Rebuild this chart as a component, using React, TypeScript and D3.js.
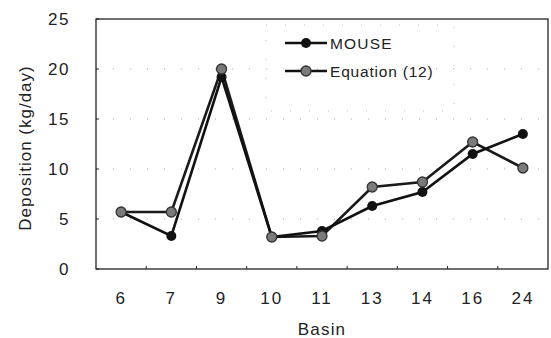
import React from 'react';
import * as d3 from 'd3';

const basins = ['6', '7', '9', '10', '11', '13', '14', '16', '24'];
const mouse = [5.7, 3.3, 19.2, 3.2, 3.8, 6.3, 7.7, 11.5, 13.5];
const equation = [5.7, 5.7, 20, 3.2, 3.3, 8.2, 8.7, 12.7, 10.1];
const yTicks = [0, 5, 10, 15, 20, 25];

const width = 551;
const height = 338;
const margin = { top: 19, right: 3, bottom: 69, left: 96 };
const innerW = width - margin.left - margin.right;
const innerH = height - margin.top - margin.bottom;
const font = '"Liberation Sans", Arial, sans-serif';

export default function App() {
  const x = d3.scaleBand().domain(basins).range([0, innerW]);
  const y = d3.scaleLinear().domain([0, 25]).range([innerH, 0]);
  const cx = (i: number) => (x(basins[i]) ?? 0) + x.bandwidth() / 2;

  const line = d3.line<number>()
    .x((_, i) => cx(i))
    .y(d => y(d));

  // legend placement
  const lg = { x: 170, y: 6, w: 188, h: 86 };

  return (
    <svg width={width} height={height}
      style={{ position: 'fixed', left: 0, top: 0, background: '#fff' }}>
      <g transform={`translate(${margin.left},${margin.top})`}>
        {/* faint dotted grid */}
        {yTicks.slice(1, -1).map(t => (
          <line key={t} x1={0} x2={innerW} y1={y(t)} y2={y(t)}
            stroke="#aaa" strokeWidth={1} strokeDasharray="1 16" />
        ))}
        {/* frame */}
        <rect x={0} y={0} width={innerW} height={innerH} fill="none" stroke="#222" strokeWidth={1.3} />
        {/* y ticks */}
        {yTicks.map(t => (
          <g key={t}>
            <line x1={0} x2={3} y1={y(t)} y2={y(t)} stroke="#222" />
            <text x={-26} y={y(t)} dy="0.36em" textAnchor="end" fontFamily={font}
              fontSize={17} letterSpacing={1.5} fill="#222">{t}</text>
          </g>
        ))}
        {/* x boundary ticks */}
        {basins.slice(1).map(b => (
          <line key={b} x1={x(b)} x2={x(b)} y1={innerH} y2={innerH - 3} stroke="#222" />
        ))}
        {basins.map((b, i) => (
          <text key={b} x={cx(i)} y={innerH + 35} textAnchor="middle" fontFamily={font}
            fontSize={17} letterSpacing={2} fill="#222">{b}</text>
        ))}

        {/* series */}
        <path d={line(equation) ?? ''} fill="none" stroke="#1a1a1a" strokeWidth={2.6} />
        <path d={line(mouse) ?? ''} fill="none" stroke="#111" strokeWidth={2.6} />
        {mouse.map((v, i) => (
          <circle key={'m' + i} cx={cx(i)} cy={y(v)} r={5} fill="#111" />
        ))}
        {equation.map((v, i) => (
          <circle key={'e' + i} cx={cx(i)} cy={y(v)} r={5} fill="#7a7a7a" stroke="#333" strokeWidth={1.3} />
        ))}

        {/* legend */}
        <rect x={lg.x} y={lg.y} width={lg.w} height={lg.h} fill="none" stroke="#bbb"
          strokeWidth={1} strokeDasharray="1 18" />
        <g transform={`translate(${lg.x + 19},${lg.y + 18})`}>
          <line x1={0} x2={42} y1={0} y2={0} stroke="#111" strokeWidth={2.6} />
          <circle cx={21} cy={0} r={5} fill="#111" />
          <text x={45} y={0} dy="0.36em" fontFamily={font} fontSize={15.5} letterSpacing={1.2} fill="#222">MOUSE</text>
        </g>
        <g transform={`translate(${lg.x + 19},${lg.y + 46})`}>
          <line x1={0} x2={42} y1={0} y2={0} stroke="#111" strokeWidth={2.6} />
          <circle cx={21} cy={0} r={5} fill="#7a7a7a" stroke="#333" strokeWidth={1.3} />
          <text x={45} y={0} dy="0.36em" fontFamily={font} fontSize={15.5} letterSpacing={0.8} fill="#222">Equation (12)</text>
        </g>
      </g>

      {/* axis titles */}
      <text transform={`translate(25,${margin.top + innerH / 2 + 4}) rotate(-90)`} textAnchor="middle"
        dy="0.36em" fontFamily={font} fontSize={17} letterSpacing={1} fill="#222">Deposition (kg/day)</text>
      <text x={margin.left + innerW / 2} y={329} textAnchor="middle" dy="0.36em"
        fontFamily={font} fontSize={17} letterSpacing={1.2} fill="#222">Basin</text>
    </svg>
  );
}
